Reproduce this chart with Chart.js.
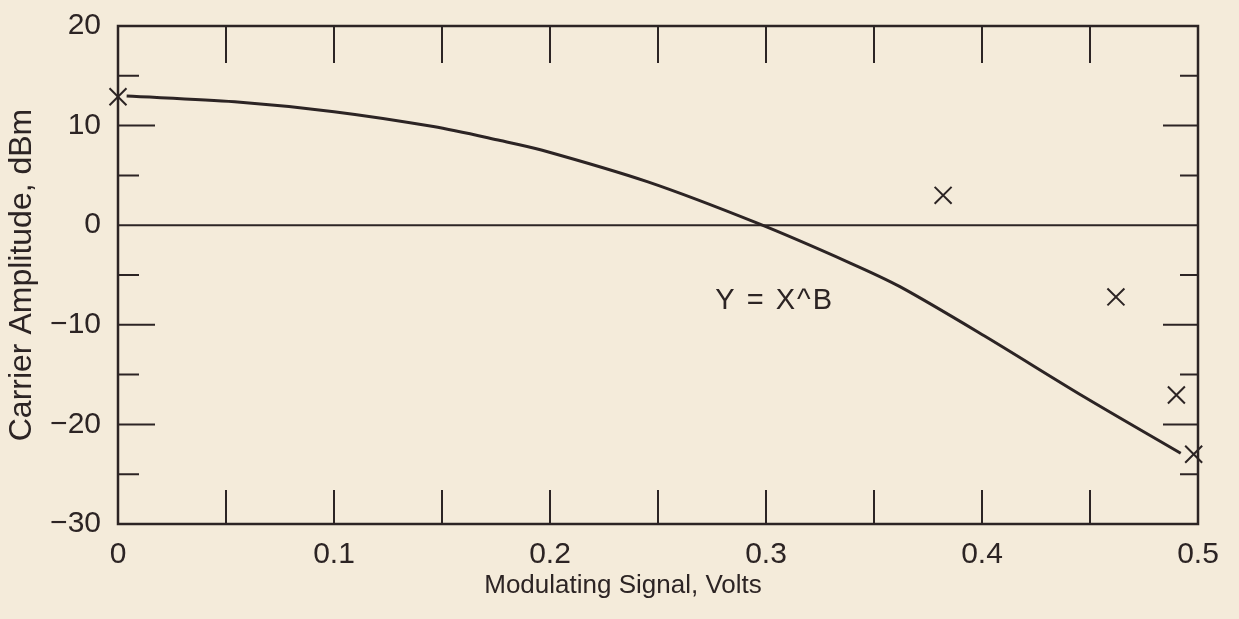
<!DOCTYPE html>
<html lang="en">
<head>
    <meta charset="UTF-8">
    <title>Carrier Amplitude vs Modulating Signal</title>
    <script src="https://cdn.jsdelivr.net/npm/chart.js@4.4.1/dist/chart.umd.min.js"></script>
    <style>
        body {
            margin: 0;
            background-color: #f4ebda;
        }
        .chart-container {
            width: 1239px;
            height: 619px;
            position: relative;
        }
    </style>
</head>
<body>
    <div class="chart-container">
        <canvas id="ampChart"></canvas>
    </div>

    <script>
        // Fitted curve
        const curveX = [0.004, 0.054, 0.1, 0.146, 0.177, 0.196, 0.245, 0.296, 0.339, 0.362, 0.401, 0.447, 0.492];
        const curveY = [12.97, 12.4, 11.4, 9.9, 8.5, 7.55, 4.37, 0.2, -3.8, -6.17, -11.1, -17.2, -22.9];

        // Measured points (x marks)
        const markX = [0, 0.382, 0.462, 0.490, 0.498];
        const markY = [12.9, 3.0, -7.2, -17.05, -23.0];

        // Axis tick values
        const xTickMarks = [0.05, 0.1, 0.15, 0.2, 0.25, 0.3, 0.35, 0.4, 0.45];
        const yTickMarks = [15, 10, 5, -5, -10, -15, -20, -25];

        // Annotation and axis title
        const noteText = 'Y = X^B';
        const notePos = { x: 0.304, y: -7.6 };
        const xTitle = 'Modulating Signal, Volts';

        const ink = '#2c2424';
        const fontFamily = '"Liberation Sans", Arial, sans-serif';

        // frame, inward ticks, zero line, annotation and x title
        const framePlugin = {
            id: 'frame',
            afterDatasetsDraw(chart) {
                const { ctx, chartArea: a, scales: { x, y } } = chart;
                ctx.save();
                ctx.strokeStyle = ink;
                ctx.lineWidth = 2.5;
                ctx.strokeRect(a.left, a.top, a.right - a.left, a.bottom - a.top);

                // zero line
                ctx.lineWidth = 2;
                ctx.beginPath();
                ctx.moveTo(a.left, y.getPixelForValue(0));
                ctx.lineTo(a.right, y.getPixelForValue(0));
                ctx.stroke();

                ctx.beginPath();
                xTickMarks.forEach(v => {
                    const px = x.getPixelForValue(v);
                    ctx.moveTo(px, a.top);
                    ctx.lineTo(px, a.top + 37);
                    ctx.moveTo(px, a.bottom);
                    ctx.lineTo(px, a.bottom - 34);
                });
                yTickMarks.forEach(v => {
                    const py = y.getPixelForValue(v);
                    const major = v % 10 === 0;
                    ctx.moveTo(a.left, py);
                    ctx.lineTo(a.left + (major ? 37 : 21), py);
                    ctx.moveTo(a.right, py);
                    ctx.lineTo(a.right - (major ? 35 : 18), py);
                });
                ctx.stroke();

                ctx.fillStyle = ink;
                ctx.textAlign = 'center';
                ctx.textBaseline = 'middle';
                ctx.font = '29px ' + fontFamily;
                ctx.letterSpacing = '2px';
                ctx.fillText(noteText, x.getPixelForValue(notePos.x), y.getPixelForValue(notePos.y));
                ctx.letterSpacing = '0px';
                ctx.font = '26px ' + fontFamily;
                ctx.fillText(xTitle, 623, 586);
                ctx.restore();
            }
        };

        const ctx = document.getElementById('ampChart').getContext('2d');
        new Chart(ctx, {
            type: 'scatter',
            data: {
                datasets: [{
                    label: 'Y = X^B',
                    data: curveX.map((v, i) => ({ x: v, y: curveY[i] })),
                    showLine: true,
                    borderColor: ink,
                    borderWidth: 3,
                    pointRadius: 0,
                    tension: 0.3
                }, {
                    label: 'Measured',
                    data: markX.map((v, i) => ({ x: v, y: markY[i] })),
                    pointStyle: 'crossRot',
                    pointRadius: 12,
                    borderColor: ink,
                    borderWidth: 2,
                    clip: false
                }]
            },
            options: {
                responsive: true,
                maintainAspectRatio: false,
                animation: false,
                layout: {
                    padding: { left: 0, right: 41, top: 26, bottom: 0 }
                },
                plugins: {
                    legend: { display: false },
                    tooltip: { enabled: false }
                },
                scales: {
                    x: {
                        type: 'linear',
                        min: 0,
                        max: 0.5,
                        grid: { display: false },
                        border: { display: false },
                        ticks: {
                            stepSize: 0.1,
                            padding: 5,
                            color: ink,
                            font: { family: fontFamily, size: 30 },
                            callback: v => v === 0 ? '0' : Number(v).toFixed(1)
                        },
                        afterFit: scale => {
                            scale.height = 95;
                            scale.paddingLeft = 0;
                            scale.paddingRight = 0;
                        }
                    },
                    y: {
                        type: 'linear',
                        min: -30,
                        max: 20,
                        grid: { display: false },
                        border: { display: false },
                        ticks: {
                            stepSize: 10,
                            padding: 9,
                            color: ink,
                            font: { family: fontFamily, size: 30 },
                            callback: v => String(v).replace('-', '\u2212')
                        },
                        title: {
                            display: true,
                            text: 'Carrier Amplitude, dBm',
                            color: ink,
                            font: { family: fontFamily, size: 32 },
                            padding: { top: 3, bottom: 0 }
                        },
                        afterFit: scale => {
                            scale.width = 118;
                            scale.paddingTop = 0;
                            scale.paddingBottom = 0;
                        }
                    }
                }
            },
            plugins: [framePlugin]
        });
    </script>
</body>
</html>
